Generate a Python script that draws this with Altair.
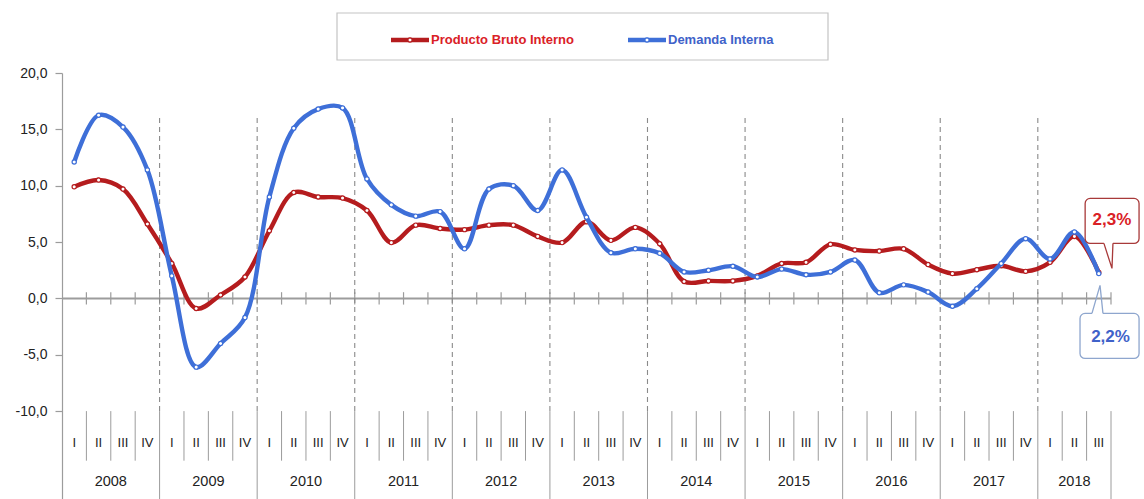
import altair as alt
import pandas as pd

# ---------------- data ----------------
years = ["2008", "2009", "2010", "2011", "2012", "2013", "2014", "2015", "2016", "2017", "2018"]
quarters = ["I", "II", "III", "IV"] * 10 + ["I", "II", "III"]
series_names = ["Producto Bruto Interno", "Demanda Interna"]

pbi = [9.9, 10.5, 9.7, 6.6,
       3.1, -0.9, 0.3, 1.9,
       6.0, 9.4, 9.0, 8.9,
       7.8, 4.95, 6.5, 6.2,
       6.1, 6.5, 6.5, 5.5,
       4.95, 6.8, 5.15, 6.3,
       4.85, 1.5, 1.55, 1.55,
       2.0, 3.1, 3.2, 4.8,
       4.3, 4.2, 4.4, 3.0,
       2.2, 2.55, 2.9, 2.4,
       3.2, 5.5, 2.3]

demanda = [12.1, 16.25, 15.2, 11.4,
           2.0, -6.1, -4.0, -1.7,
           9.0, 15.1, 16.8, 16.9,
           10.6, 8.3, 7.3, 7.7,
           4.4, 9.7, 10.0, 7.8,
           11.4, 7.2, 4.05, 4.4,
           4.0, 2.35, 2.5, 2.85,
           1.9, 2.6, 2.1, 2.35,
           3.4, 0.5, 1.2, 0.56,
           -0.7, 0.86, 3.1, 5.3,
           3.5, 5.9, 2.2]

y_ticks = [-10, -5, 0, 5, 10, 15, 20]
callout_labels = ["2,3%", "2,2%"]

# ---------------- styling ----------------
RED = "#B51C1E"
BLUE = "#3E6FD8"
RED_TXT = "#DA2126"
BLUE_TXT = "#4062C9"
GRAY = "#9C9C9C"
FONT = "Liberation Sans"

n = len(pbi)
df = pd.DataFrame({
    "t": [i + 0.5 for i in range(n)],
    "q": quarters,
    "pbi": pbi,
    "dem": demanda,
})

xs = alt.Scale(domain=[0, n], nice=False, zero=False)
ys = alt.Scale(domain=[-17.8, 20], nice=False, zero=False)
y_axis = alt.Axis(values=y_ticks, grid=False, title=None,
                  labelExpr="(datum.value < 0 ? '-' : '') + replace(format(abs(datum.value), '.1f'), '.', ',')",
                  labelFont=FONT, labelFontSize=14, labelColor="#222222", labelPadding=8,
                  domainColor=GRAY, domainWidth=1.2, tickColor=GRAY, tickSize=7, tickWidth=1.2)


def X(f):
    return alt.X(f, type="quantitative", scale=xs, axis=None)


def Y(f):
    return alt.Y(f, type="quantitative", scale=ys, axis=y_axis)


layers = []

# zero line + quarter ticks
zero_df = pd.DataFrame({"x": [0], "x2": [n], "y": [0]})
layers.append(alt.Chart(zero_df).mark_rule(color=GRAY, strokeWidth=2).encode(
    x=X("x"), x2="x2", y=Y("y")))
tick_df = pd.DataFrame({"x": list(range(1, n + 1)), "y": [-0.55] * n, "y2": [0.55] * n})
layers.append(alt.Chart(tick_df).mark_rule(color=GRAY, strokeWidth=1.2).encode(
    x=X("x"), y=Y("y"), y2="y2"))

# dashed year lines
year_b = list(range(4, 41, 4))
dash_df = pd.DataFrame({"x": year_b, "y": [16] * len(year_b), "y2": [-10] * len(year_b)})
layers.append(alt.Chart(dash_df).mark_rule(color="#8A8A8A", strokeWidth=1.1, strokeDash=[5, 4]).encode(
    x=X("x"), y=Y("y"), y2="y2"))

# category table separators
q_b = [b for b in range(1, n) if b % 4 != 0]
qsep_df = pd.DataFrame({"x": q_b, "y": [-10] * len(q_b), "y2": [-14.4] * len(q_b)})
layers.append(alt.Chart(qsep_df).mark_rule(color=GRAY, strokeWidth=1).encode(
    x=X("x"), y=Y("y"), y2="y2"))
y_b = year_b + [n]
ysep_df = pd.DataFrame({"x": y_b, "y": [-10] * len(y_b), "y2": [-17.8] * len(y_b)})
layers.append(alt.Chart(ysep_df).mark_rule(color=GRAY, strokeWidth=1).encode(
    x=X("x"), y=Y("y"), y2="y2"))

# quarter labels
qlab_df = df.assign(y=-12.8)
layers.append(alt.Chart(qlab_df).mark_text(font=FONT, fontSize=13, color="#222222", baseline="middle").encode(
    x=X("t"), y=Y("y"), text="q"))

# year labels
ycent = [4 * k + 2 for k in range(10)] + [(40 + n) / 2]
ylab_df = pd.DataFrame({"x": ycent, "y": [-16.3] * len(years), "label": years})
layers.append(alt.Chart(ylab_df).mark_text(font=FONT, fontSize=14.5, color="#222222", baseline="middle").encode(
    x=X("x"), y=Y("y"), text="label"))

# data lines
for field, col in [("pbi", RED), ("dem", BLUE)]:
    layers.append(alt.Chart(df).mark_line(color=col, strokeWidth=4.4, interpolate="catmull-rom").encode(
        x=X("t"), y=Y(field)))
    layers.append(alt.Chart(df).mark_point(filled=True, fill="white", stroke=col, strokeWidth=1.2,
                                           size=18, opacity=1).encode(
        x=X("t"), y=Y(field)))


# callouts
def callout(box, tail, txt_pos, label, border, txt_col):
    out = []
    bdf = pd.DataFrame({"x": [box[0]], "x2": [box[1]], "y": [box[2]], "y2": [box[3]]})
    out.append(alt.Chart(bdf).mark_rect(fill="white", stroke=border, strokeWidth=1.3, cornerRadius=5).encode(
        x=X("x"), x2="x2", y=Y("y"), y2="y2"))
    cdf = pd.DataFrame({"x": [tail[0][0]], "x2": [tail[2][0]], "y": [tail[0][1]]})
    out.append(alt.Chart(cdf).mark_rule(color="white", strokeWidth=3).encode(
        x=X("x"), x2="x2", y=Y("y")))
    tdf = pd.DataFrame({"x": [p[0] for p in tail], "y": [p[1] for p in tail], "o": [0, 1, 2]})
    out.append(alt.Chart(tdf).mark_line(color=border, strokeWidth=1.3).encode(
        x=X("x"), y=Y("y"), order="o"))
    ldf = pd.DataFrame({"x": [txt_pos[0]], "y": [txt_pos[1]], "label": [label]})
    out.append(alt.Chart(ldf).mark_text(font=FONT, fontSize=17, fontWeight="bold", color=txt_col,
                                        baseline="middle").encode(
        x=X("x"), y=Y("y"), text="label"))
    return out


layers += callout((41.94, 44.15, 8.87, 4.88),
                  [(42.71, 4.88), (43.04, 2.66), (43.08, 4.88)],
                  (43.04, 6.95), callout_labels[0], "#A83A3A", RED_TXT)
layers += callout((41.73, 44.15, -1.33, -5.33),
                  [(42.22, -1.33), (42.55, 1.15), (42.67, -1.33)],
                  (42.98, -3.45), callout_labels[1], "#8EA6CE", BLUE_TXT)

# legend (custom, above plot)
one = pd.DataFrame({"a": [0]})
layers.append(alt.Chart(one).mark_rect(fill="white", stroke="#C4C4C4", strokeWidth=1.2).encode(
    x=alt.value(275), x2=alt.value(766), y=alt.value(-60), y2=alt.value(-13)))
for name, col, tcol, x0 in [(series_names[0], RED, RED_TXT, 329), (series_names[1], BLUE, BLUE_TXT, 566)]:
    layers.append(alt.Chart(one).mark_rule(color=col, strokeWidth=4.4).encode(
        x=alt.value(x0), x2=alt.value(x0 + 38), y=alt.value(-33)))
    layers.append(alt.Chart(one).mark_point(filled=True, fill="white", stroke=col, strokeWidth=1.2,
                                            size=18, opacity=1).encode(
        x=alt.value(x0 + 19), y=alt.value(-33)))
    ldf = pd.DataFrame({"label": [name]})
    layers.append(alt.Chart(ldf).mark_text(font=FONT, fontSize=13, fontWeight="bold", color=tcol,
                                           align="left", baseline="middle").encode(
        x=alt.value(x0 + 40), y=alt.value(-33), text="label"))

chart = alt.layer(*layers).properties(
    width=1049, height=426,
    autosize=alt.AutoSizeParams(type="none"),
    padding={"left": 62, "top": 73, "right": 33, "bottom": 0},
    background="white",
).configure_view(stroke=None)

chart.save("out.html", embed_options={"renderer": "svg", "actions": False})
